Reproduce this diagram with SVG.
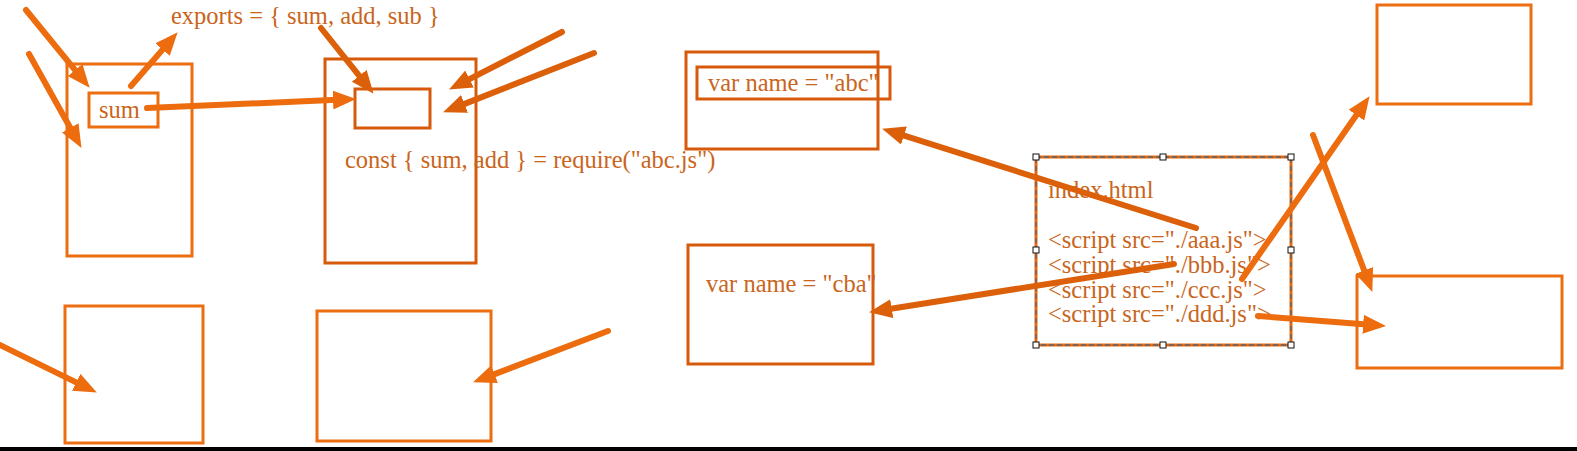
<svg xmlns="http://www.w3.org/2000/svg" width="1577" height="451" viewBox="0 0 1577 451">
<style>
.box{fill:none;stroke:#EC6E10;stroke-width:3}
.dk{stroke:#D65A0A}
.t{font-family:"Liberation Serif","Times New Roman",serif;font-size:24.5px;fill:#C9651C}
.a{stroke:#EC6C0E;stroke-width:6;fill:none;stroke-linecap:round}
.ad{stroke:#DC600A}
.h{fill:#fff;stroke:#111;stroke-width:1}
</style>
<defs>
<marker id="ah" viewBox="0 0 23 19" refX="4" refY="9.5" markerWidth="23" markerHeight="19" markerUnits="userSpaceOnUse" orient="auto">
<path d="M0,0 L23,9.5 L0,19 Z" fill="#EC6C0E"/>
</marker>
<marker id="ahd" viewBox="0 0 23 19" refX="4" refY="9.5" markerWidth="23" markerHeight="19" markerUnits="userSpaceOnUse" orient="auto">
<path d="M0,0 L23,9.5 L0,19 Z" fill="#DC600A"/>
</marker>
</defs>
<rect width="1577" height="451" fill="#fff"/>
<g id="nodeA"><rect class="box" x="67" y="64" width="125" height="192"/></g>
<g id="sum"><rect class="box" x="89" y="93" width="69" height="34"/><text class="t" x="99" y="118">sum</text></g>
<g id="exports"><text class="t" x="171" y="24">exports = { sum, add, sub }</text></g>
<g id="nodeB"><rect class="box dk" x="325" y="59" width="151" height="204"/><text class="t" x="345" y="168">const { sum, add } = require("abc.js")</text></g>
<g id="nodeB2"><rect class="box dk" x="355" y="89" width="75" height="39"/></g>
<g id="nodeC"><rect class="box dk" x="686" y="52" width="192" height="97"/></g>
<g id="abc"><rect class="box dk" x="697" y="67" width="193" height="32"/><text class="t" x="708" y="91">var name = "abc"</text></g>
<g id="nodeD"><rect class="box dk" x="688" y="245" width="185" height="119"/><text class="t" x="706" y="292">var name = "cba"</text></g>
<g id="index">
<rect x="1036" y="157" width="255" height="188" fill="none" stroke="#E4690F" stroke-width="3"/>
<rect x="1036" y="157" width="255" height="188" fill="none" stroke="#5a6470" stroke-width="1.3" stroke-dasharray="5 3"/>
<text class="t" x="1048" y="198">index.html</text>
<text class="t" x="1048" y="248">&lt;script src="./aaa.js"&gt;</text>
<text class="t" x="1048" y="273">&lt;script src="./bbb.js"&gt;</text>
<text class="t" x="1048" y="298">&lt;script src="./ccc.js"&gt;</text>
<text class="t" x="1048" y="322">&lt;script src="./ddd.js"&gt;</text>
<rect class="h" x="1033" y="154" width="6" height="6"/>
<rect class="h" x="1160" y="154" width="6" height="6"/>
<rect class="h" x="1288" y="154" width="6" height="6"/>
<rect class="h" x="1033" y="247" width="6" height="6"/>
<rect class="h" x="1288" y="247" width="6" height="6"/>
<rect class="h" x="1033" y="342" width="6" height="6"/>
<rect class="h" x="1160" y="342" width="6" height="6"/>
<rect class="h" x="1288" y="342" width="6" height="6"/>
</g>
<g id="nodeE"><rect class="box" x="1377" y="5" width="154" height="99"/></g>
<g id="nodeF"><rect class="box" x="1357" y="276" width="205" height="92"/></g>
<g id="nodeG"><rect class="box" x="65" y="306" width="138" height="137"/></g>
<g id="nodeH"><rect class="box" x="317" y="311" width="174" height="130"/></g>
<g id="connectors">
<line class="a" x1="26" y1="10" x2="77.6" y2="73.1" marker-end="url(#ah)"/>
<line class="a" x1="29" y1="54" x2="72.2" y2="131.3" marker-end="url(#ah)"/>
<line class="a" x1="131" y1="86" x2="165.2" y2="46.6" marker-end="url(#ah)"/>
<line class="a" x1="147" y1="108" x2="337" y2="99.8" marker-end="url(#ah)"/>
<line class="a ad" x1="321" y1="28" x2="361.7" y2="78.9" marker-end="url(#ahd)"/>
<line class="a ad" x1="562" y1="32" x2="466" y2="80.8" marker-end="url(#ahd)"/>
<line class="a ad" x1="594" y1="53" x2="460.8" y2="105.4" marker-end="url(#ahd)"/>
<line class="a ad" x1="1196" y1="228" x2="900.2" y2="134.4" marker-end="url(#ahd)"/>
<line class="a ad" x1="1174" y1="264" x2="887.8" y2="309.2" marker-end="url(#ahd)"/>
<line class="a" x1="1242" y1="279" x2="1358.7" y2="111.8" marker-end="url(#ah)"/>
<line class="a" x1="1313" y1="135" x2="1365.6" y2="274.2" marker-end="url(#ah)"/>
<line class="a" x1="1258" y1="316" x2="1367.1" y2="324.6" marker-end="url(#ah)"/>
<line class="a" x1="-2" y1="344" x2="79.8" y2="384.1" marker-end="url(#ah)"/>
<line class="a" x1="608" y1="331" x2="490.8" y2="375.6" marker-end="url(#ah)"/>
</g>
<rect x="0" y="447" width="1577" height="4" fill="#000"/>
</svg>
